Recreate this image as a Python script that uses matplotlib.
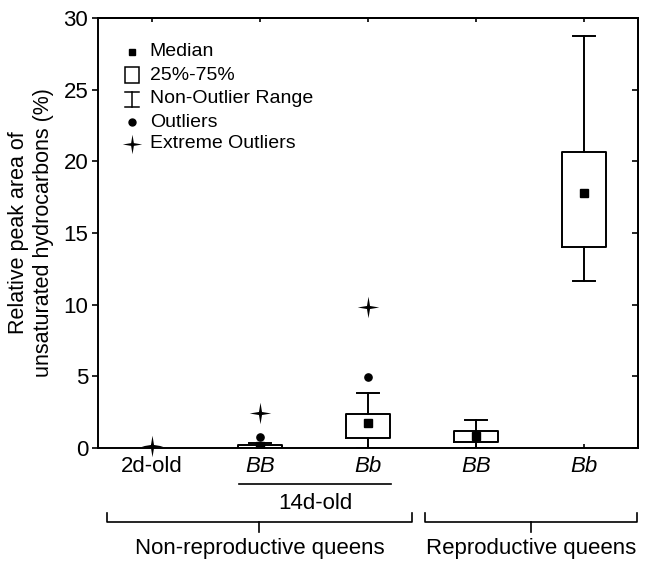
import numpy as np
import matplotlib
matplotlib.use("Agg")
import matplotlib.pyplot as plt
from matplotlib.path import Path
from matplotlib.patches import Rectangle
from matplotlib.transforms import blended_transform_factory

plt.rcParams['font.family'] = ['Liberation Sans', 'DejaVu Sans']

# Données
groupes = ["2d-old", "BB", "Bb", "BB", "Bb"]
italique = [False, True, True, True, True]
positions_box = [1, 2, 3, 4]
q1 = [0.02, 0.72, 0.44, 14.05]
mediane = [0.14, 1.77, 0.84, 17.8]
q3 = [0.21, 2.37, 1.19, 20.65]
wh_bas = [0.0, 0.0, 0.0, 11.65]
wh_haut = [0.36, 3.85, 1.95, 28.75]
outliers_x = [1, 2]
outliers_y = [0.75, 4.95]
extremes_x = [0, 1, 2]
extremes_y = [0.16, 2.44, 9.86]

# Étoile à 4 branches
r = 0.2
angles = np.arange(8) * np.pi / 4 + np.pi / 2
rayons = np.where(np.arange(8) % 2 == 0, 1.0, r)
verts = np.column_stack([rayons * np.cos(angles), rayons * np.sin(angles)])
etoile = Path(np.vstack([verts, verts[:1]]), closed=True)

fig = plt.figure(figsize=(6.49, 5.71), dpi=100)
ax = fig.add_axes([0.151, 0.2154, 0.832, 0.7531])

stats = []
for i in range(len(positions_box)):
    stats.append(dict(med=mediane[i], q1=q1[i], q3=q3[i],
                      whislo=wh_bas[i], whishi=wh_haut[i], fliers=[]))

lw = 1.4
ax.bxp(stats, positions=positions_box, widths=0.41, showfliers=False,
       boxprops=dict(color='black', linewidth=lw),
       whiskerprops=dict(color='black', linewidth=lw),
       capprops=dict(color='black', linewidth=lw),
       medianprops=dict(visible=False), capwidths=0.21)

ax.plot(positions_box, mediane, 's', color='black', markersize=5.2, zorder=4)
ax.plot(outliers_x, outliers_y, 'o', color='black', markersize=5.2, zorder=4)
ax.plot(extremes_x, extremes_y, marker=etoile, linestyle='none', color='black',
        markersize=15.5, markeredgewidth=0, zorder=4, clip_on=False)

ax.set_xlim(-0.5, 4.5)
ax.set_ylim(0, 30)
ax.set_yticks(range(0, 31, 5))
ax.set_xticks(range(len(groupes)))
ax.set_xticklabels(groupes)
for lab, it in zip(ax.get_xticklabels(), italique):
    if it:
        lab.set_style('italic')

ax.tick_params(axis='y', direction='out', length=4, width=1.2,
               labelsize=16, pad=3)
ax.tick_params(axis='x', direction='in', length=3, width=1.2, labelsize=16,
               pad=6)

# Graduations intérieures à droite et en haut
ax_d = ax.secondary_yaxis('right')
ax_d.set_yticks(range(0, 31, 5))
ax_d.tick_params(direction='in', length=4, width=1.2, labelright=False)
ax_h = ax.secondary_xaxis('top')
ax_h.set_xticks(range(len(groupes)))
ax_h.tick_params(direction='in', length=3, width=1.2, labeltop=False)

for a in (ax, ax_d, ax_h):
    for s in a.spines.values():
        s.set_linewidth(1.4)

ax.set_ylabel("Relative peak area of\nunsaturated hydrocarbons (%)",
              fontsize=15.5, labelpad=7, linespacing=1.2)

# Annotations sous l'axe
tr = blended_transform_factory(ax.transData, ax.transAxes)
kw = dict(color='black', linewidth=1.2, transform=tr, clip_on=False)
ax.plot([0.806, 2.213], [-0.0837, -0.0837], **kw)
ax.text(1.51, -0.128, "14d-old", transform=tr, ha='center', va='center',
        fontsize=16)


def accolade(x0, x1, xc):
    ax.plot([x0, x0, x1, x1], [-0.151, -0.172, -0.172, -0.151], **kw)
    ax.plot([xc, xc], [-0.172, -0.195], **kw)


accolade(-0.417, 2.407, 0.995)
accolade(2.528, 4.49, 3.51)
ax.text(0.995, -0.2326, "Non-reproductive queens", transform=tr,
        ha='center', va='center', fontsize=16)
ax.text(3.51, -0.2326, "Reproductive queens", transform=tr,
        ha='center', va='center', fontsize=16)

# Légende dessinée à la main
ta = ax.transAxes
xs, xt = 0.063, 0.096
lignes_y = [0.921, 0.867, 0.812, 0.758, 0.707]
textes = ["Median", "25%-75%", "Non-Outlier Range", "Outliers",
          "Extreme Outliers"]
ax.plot([xs], [lignes_y[0]], 's', color='black', markersize=5, transform=ta)
ax.add_patch(Rectangle((0.05, 0.849), 0.026, 0.037, fill=False,
                       edgecolor='black', linewidth=1.1, transform=ta))
ax.plot([xs, xs], [0.793, 0.828], color='black', linewidth=1.1, transform=ta)
ax.plot([0.05, 0.076], [0.828, 0.828], color='black', linewidth=1.1, transform=ta)
ax.plot([0.05, 0.076], [0.793, 0.793], color='black', linewidth=1.1, transform=ta)
ax.plot([xs], [lignes_y[3]], 'o', color='black', markersize=5, transform=ta)
ax.plot([xs], [lignes_y[4]], marker=etoile, color='black', markersize=14,
        markeredgewidth=0, transform=ta)
for y, t in zip(lignes_y, textes):
    ax.text(xt, y, t, transform=ta, ha='left', va='center', fontsize=14)

fig.savefig("out.png", dpi=100)
